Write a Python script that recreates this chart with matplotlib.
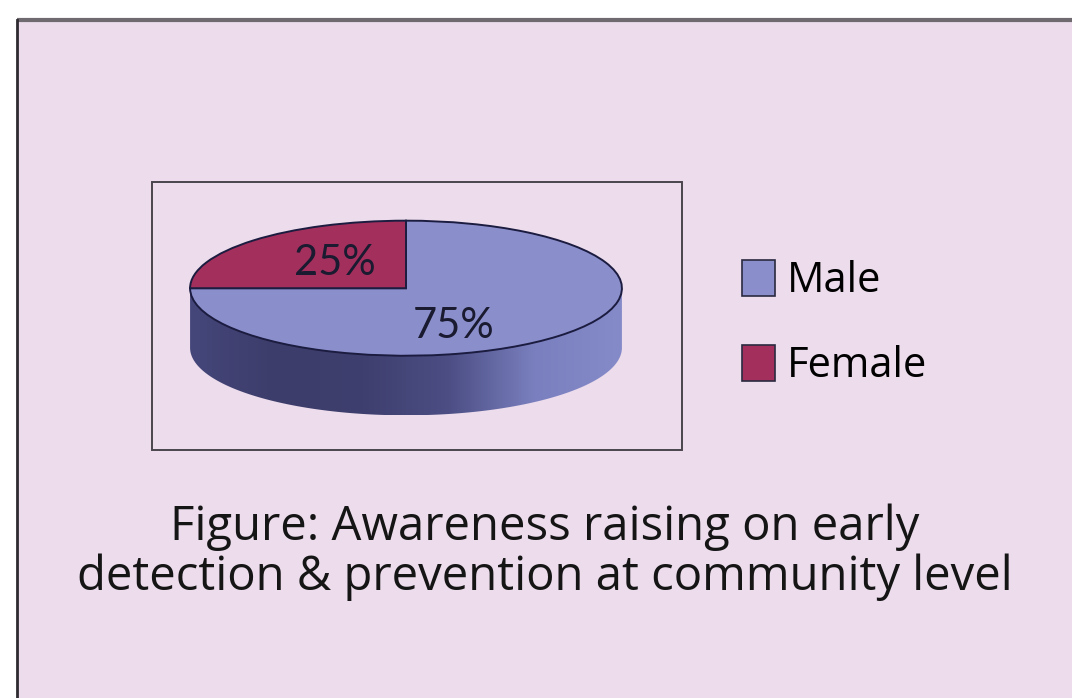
import numpy as np
import matplotlib
matplotlib.use("Agg")
import matplotlib.pyplot as plt
from matplotlib.patches import Polygon, Rectangle
from matplotlib.colors import LinearSegmentedColormap

labels = ["Male", "Female"]
shares = [75, 25]
colors = ["#8a8fcc", "#a3305c"]
caption_lines = ["Figure: Awareness raising on early",
                 "detection & prevention at community level"]

W, H = 1072, 698
fig = plt.figure(figsize=(W / 100, H / 100), dpi=100)
fig.patch.set_facecolor("white")

# background frame in pixel coords
bg = fig.add_axes([0, 0, 1, 1])
bg.set_xlim(0, W)
bg.set_ylim(H, 0)
bg.axis("off")
bg.add_patch(Rectangle((17, 20), W - 17, H, facecolor="#ecdcec", edgecolor="none"))
bg.plot([17, W], [20, 20], color="#6e6a70", lw=3, solid_capstyle="butt")
bg.plot([17, 17], [20, H], color="#2e2a30", lw=2)
bg.add_patch(Rectangle((152, 182), 530, 268, facecolor="none", edgecolor="#4a444c", lw=1.4))

# pie axes: ellipse centre (406,288), a=217, b=68, depth 60
cx, cy, a, b, depth = 406, 288, 217, 68, 60
d = depth / b
pax = fig.add_axes([(cx - a) / W, (H - cy - b - depth) / H, 2 * a / W, (2 * b + depth) / H])

wedges, _, autotexts = pax.pie(shares, colors=colors, startangle=180, autopct="%d%%",
                               wedgeprops=dict(edgecolor="#1c1c40", linewidth=1.4),
                               textprops=dict(color="#1a1a30", fontsize=30,
                                              family=["Liberation Sans Narrow", "Lato"]))
pax.set_aspect("auto")
pax.set_xlim(-1.005, 1.005)
pax.set_ylim(-1 - d - 0.01, 1.01)
pax.axis("off")

# side of the 3d pie with gradient
t = np.linspace(np.pi, 2 * np.pi, 200)
top = np.column_stack([np.cos(t), np.sin(t)])
bot = np.column_stack([np.cos(t[::-1]), np.sin(t[::-1]) - d])
side = Polygon(np.vstack([top, bot]), closed=True, facecolor="none", edgecolor="none")
pax.add_patch(side)
cmap = LinearSegmentedColormap.from_list("side", ["#45467a", "#3c3d6a", "#3e3f6e", "#4c4e84", "#7a80bf", "#858ac8"])
grad = np.linspace(0, 1, 256).reshape(1, -1)
im = pax.imshow(grad, extent=[-1, 1, -1 - d, 0], cmap=cmap, aspect="auto", zorder=0)
im.set_clip_path(side)

autotexts[1].set_position((-0.33, 0.38))
autotexts[0].set_position((0.22, -0.56))

leg = fig.legend(wedges, labels, loc="upper left", bbox_to_anchor=(713 / W, 1 - 231 / H),
                 frameon=False, prop=dict(family="Open Sans", size=30),
                 handlelength=0.78, handleheight=0.95, handletextpad=0.3, labelspacing=1.02,
                 borderpad=0.2)
for h in leg.legend_handles:
    h.set_edgecolor("#2a2a40")
    h.set_linewidth(1.2)

for i, line in enumerate(caption_lines):
    bg.text(545, 540 + 50 * i, line, ha="center", va="baseline", fontsize=34,
            family="Open Sans", color="#151515")

fig.savefig("out.png", dpi=100, facecolor=fig.get_facecolor())
